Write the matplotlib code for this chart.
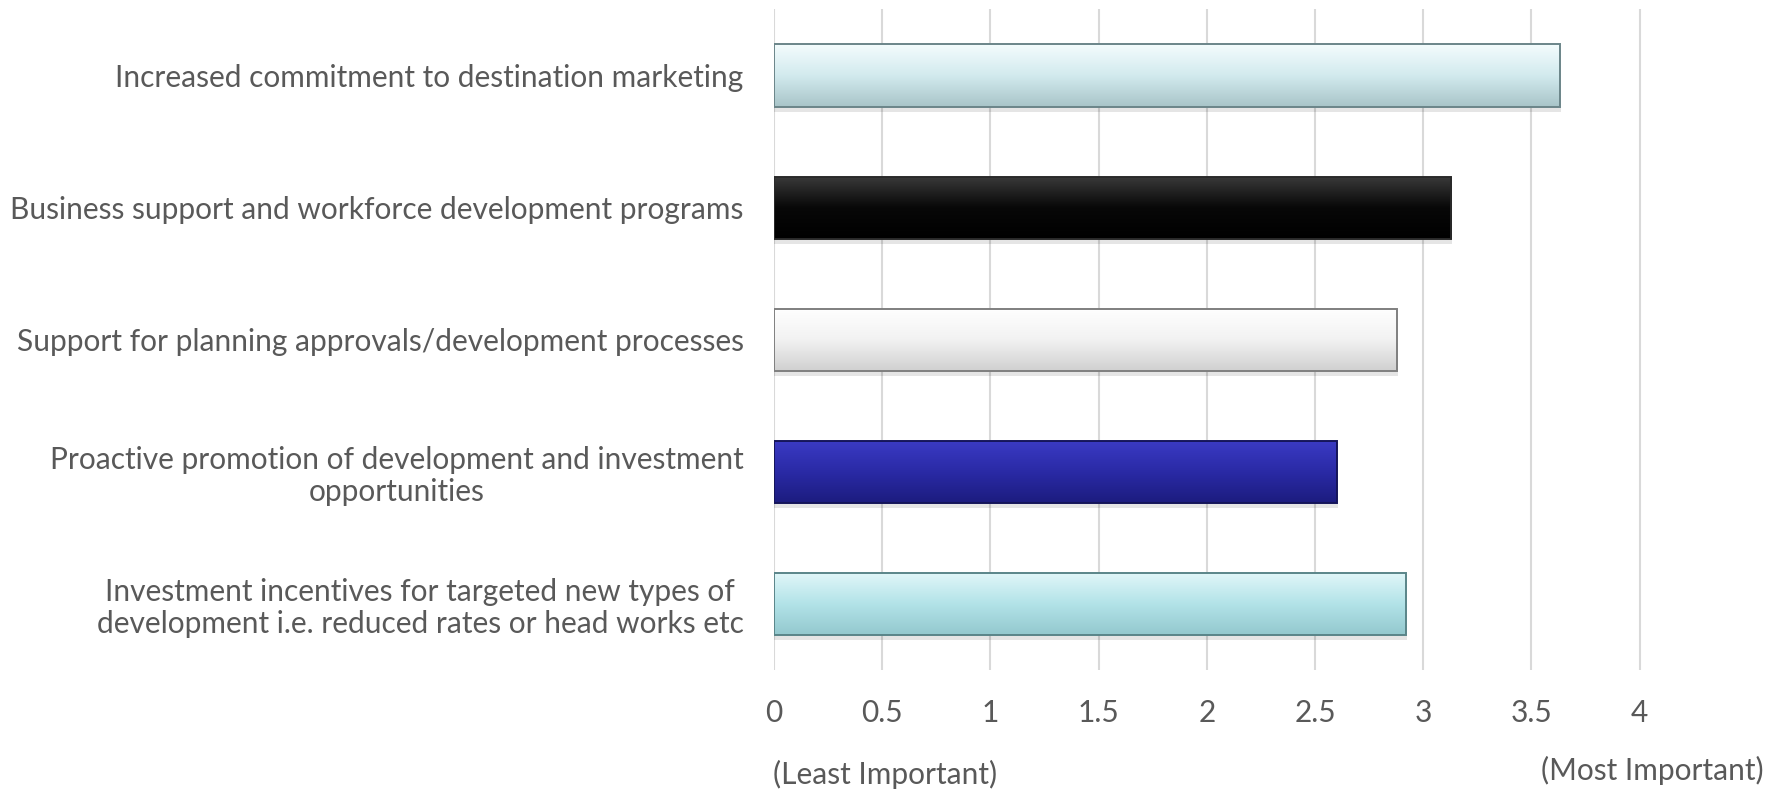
import numpy as np
import matplotlib
matplotlib.use("Agg")
import matplotlib.pyplot as plt
from matplotlib.colors import LinearSegmentedColormap

plt.rcParams['font.family'] = ['Lato', 'DejaVu Sans']

# survey results, listed top to bottom
categories = [
    "Increased commitment to destination marketing",
    "Business support and workforce development programs",
    "Support for planning approvals/development processes",
    "Proactive promotion of development and investment\nopportunities",
    "Investment incentives for targeted new types of\ndevelopment i.e. reduced rates or head works etc",
]
scores = [3.63, 3.13, 2.88, 2.60, 2.92]
x_ticks = [0, 0.5, 1, 1.5, 2, 2.5, 3, 3.5, 4]
x_tick_labels = ["0", "0.5", "1", "1.5", "2", "2.5", "3", "3.5", "4"]

# gradient stops per bar: top, middle, bottom, edge
bar_styles = [
    ("#f4fcfd", "#d2eaee", "#a8c4c8", "#6b8589"),
    ("#3a3a3a", "#080808", "#000000", "#2a2a2a"),
    ("#ffffff", "#f2f2f2", "#d0d0d0", "#7f7f7f"),
    ("#3b3bc4", "#2a2aa6", "#1c1c7e", "#15155a"),
    ("#e2f7f9", "#b3e3e8", "#93c8ce", "#5a8589"),
]

text_color = "#595959"
fsize = 21.5

fig = plt.figure(figsize=(17.77, 7.9), dpi=100)
ax = fig.add_axes([0.4356, 0.152, 0.5480, 0.836])

y = np.arange(len(categories))
bars = ax.barh(y, scores, height=0.47, color="none", zorder=3)

for bar, (top, mid, bot, edge) in zip(bars, bar_styles):
    x0, y0 = bar.get_x(), bar.get_y()
    w, h = bar.get_width(), bar.get_height()
    # soft drop shadow below the bar
    ax.barh(y0 + h / 2 + 0.04, w + 0.005, height=h, left=x0,
            color="#000000", alpha=0.10, zorder=2, linewidth=0)
    cmap = LinearSegmentedColormap.from_list("g", [top, mid, bot])
    grad = np.linspace(0, 1, 256).reshape(-1, 1)
    im = ax.imshow(grad, cmap=cmap, aspect="auto",
                   extent=(x0, x0 + w, y0 + h, y0), zorder=3,
                   interpolation="bicubic")
    im.set_clip_path(bar)
    bar.set_edgecolor(edge)
    bar.set_linewidth(1.4)
    bar.set_zorder(4)

ax.set_xlim(0, 4.5)
ax.set_ylim(len(categories) - 0.5, -0.5)
ax.set_xticks(x_ticks)
ax.set_xticklabels(x_tick_labels)
ax.set_yticks(y)
ax.set_yticklabels(categories)
for lbl in ax.get_yticklabels():
    lbl.set_multialignment("center")
    lbl.set_linespacing(1.15)

ax.grid(axis="x", color="#d9d9d9", linewidth=1.5, zorder=0)
ax.set_axisbelow(True)
for s in ax.spines.values():
    s.set_visible(False)
ax.tick_params(axis="both", length=0, colors=text_color, labelsize=fsize)
ax.tick_params(axis="x", pad=21)
ax.tick_params(axis="y", pad=22)

fig.text(0.435, 0.020, "(Least Important)", fontsize=fsize, color=text_color,
         ha="left", va="center")
fig.text(0.9925, 0.025, "(Most Important)", fontsize=fsize, color=text_color,
         ha="right", va="center")

fig.savefig("out.png", dpi=100)
